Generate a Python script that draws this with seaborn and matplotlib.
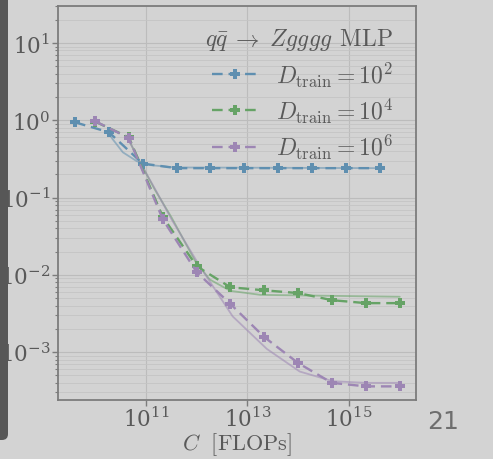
import numpy as np
import pandas as pd
import matplotlib
matplotlib.use("Agg")
import matplotlib.pyplot as plt
import seaborn as sns
from matplotlib.patches import FancyBboxPatch
from matplotlib.ticker import LogLocator, NullLocator, NullFormatter, FixedLocator

# ---- data ----
blue_C = [4.0e9, 1.86e10, 8.6e10, 4.0e11, 1.86e12, 8.6e12, 4.0e13, 1.86e14, 8.6e14, 4.0e15]
blue_loss = [0.94, 0.70, 0.275, 0.24, 0.24, 0.24, 0.24, 0.24, 0.24, 0.24]

gp_C = [1e10, 4.6e10, 2.15e11, 1e12, 4.6e12, 2.15e13, 1e14, 4.6e14, 2.15e15, 1e16]
green_loss = [0.96, 0.60, 0.056, 0.0129, 0.0069, 0.0063, 0.0058, 0.0047, 0.0043, 0.0043]
purple_loss = [0.97, 0.59, 0.052, 0.0108, 0.0042, 0.00156, 0.00072, 0.00040, 0.00036, 0.00036]

blue_fit_C = [1.8e10, 2.2e10, 3.5e10, 6.6e10, 1.2e11, 3.7e11, 4.0e15]
blue_fit_loss = [0.70, 0.57, 0.385, 0.295, 0.263, 0.245, 0.24]

green_fit_C = [4.4e10, 7.6e10, 1.5e11, 3.2e11, 9.3e11, 1.8e12, 4.6e12, 1.8e13, 1e16]
green_fit_loss = [0.585, 0.29, 0.126, 0.055, 0.0151, 0.0087, 0.0062, 0.0055, 0.0052]

purple_fit_C = [4.4e10, 7.6e10, 1.5e11, 3.2e11, 1.15e12, 5.1e12, 2.4e13, 1.07e14, 4.8e14, 2.1e15, 1e16]
purple_fit_loss = [0.585, 0.286, 0.13, 0.052, 0.0129, 0.0029, 0.0011, 0.00056, 0.00042, 0.00040, 0.00040]

labels = [r"$D_{\mathrm{train}} = 10^2$", r"$D_{\mathrm{train}} = 10^4$", r"$D_{\mathrm{train}} = 10^6$"]
legend_title = r"$q\bar{q}\;\to\;Zgggg\;\,\mathrm{MLP}$"
xlabel = r"$C\ \ [\mathrm{FLOPs}]$"
xticks = [1e11, 1e13, 1e15]

# ---- style ----
BG = "#d3d3d3"
TXT = "#595959"
colors = ["#5f8fb0", "#66a366", "#9d86b4"]

sns.set_theme(style="whitegrid")
plt.rcParams.update({
    "mathtext.fontset": "cm",
    "font.family": ["DejaVu Serif"],
    "axes.facecolor": BG,
    "figure.facecolor": BG,
    "savefig.facecolor": BG,
    "text.color": TXT,
    "axes.labelcolor": TXT,
    "xtick.color": TXT,
    "ytick.color": TXT,
})

fig = plt.figure(figsize=(4.93, 4.60), dpi=100)
ax = fig.add_axes([0.1176, 0.1283, 0.8438 - 0.1176, 0.9848 - 0.1283])

series = [
    (blue_C, blue_loss, blue_fit_C, blue_fit_loss),
    (gp_C, green_loss, green_fit_C, green_fit_loss),
    (gp_C, purple_loss, purple_fit_C, purple_fit_loss),
]
for i, (c, l, fc, fl) in enumerate(series):
    df_fit = pd.DataFrame({"C": fc, "loss": fl})
    sns.lineplot(data=df_fit, x="C", y="loss", ax=ax, color=colors[i], lw=1.3,
                 alpha=0.55, sort=False, estimator=None, zorder=2 + i)
for i, (c, l, fc, fl) in enumerate(series):
    df = pd.DataFrame({"C": c, "loss": l})
    sns.lineplot(data=df, x="C", y="loss", ax=ax, color=colors[i], lw=1.7,
                 linestyle=(0, (4.5, 2.5)), marker="P", markersize=7, markeredgewidth=0,
                 sort=False, estimator=None, label=labels[i], zorder=5 + i)

ax.set_xscale("log")
ax.set_yscale("log")
ax.set_xlim(10**9.266, 10**16.32)
ax.set_ylim(2.4e-4, 30.1)

ax.xaxis.set_major_locator(FixedLocator(xticks))
ax.xaxis.set_minor_locator(NullLocator())
ax.yaxis.set_major_locator(LogLocator(base=10, numticks=20))
ax.yaxis.set_minor_locator(LogLocator(base=10, subs=np.arange(2, 10), numticks=20))
ax.yaxis.set_minor_formatter(NullFormatter())

ax.grid(True, which="major", color="#bcbcbc", lw=0.8)
ax.grid(True, which="minor", axis="y", color="#c4c4c4", lw=0.6)
ax.set_axisbelow(True)

for s in ax.spines.values():
    s.set_color("#7c7c7c")
    s.set_linewidth(1.3)

ax.tick_params(axis="both", which="major", labelsize=15.5, length=4, width=1, color="#7c7c7c",
               direction="out", left=True, bottom=True, pad=1.5)
ax.tick_params(axis="x", which="major", pad=0.5)
ax.tick_params(axis="y", which="minor", length=2, width=0.8, color="#7c7c7c", left=True)

ax.set_xlabel(xlabel, fontsize=16)
ax.xaxis.set_label_coords(0.5, -0.11)
ax.xaxis.label.set_va("center")
ax.set_ylabel("")

leg = ax.legend(title=legend_title, loc="upper right", bbox_to_anchor=(0.9645, 0.9754),
                frameon=False, fontsize=17, title_fontsize=17, handlelength=2.0,
                labelspacing=0.3, borderaxespad=0.35, handletextpad=0.7, borderpad=0.1)
leg._legend_box.align = "right"
for t in leg.get_texts():
    t.set_color(TXT)
leg.get_title().set_color(TXT)

# slide frame bar on the left and slide number
bar = FancyBboxPatch((-20, 19), 28, 460, boxstyle="round,pad=0,rounding_size=6",
                     transform=None, facecolor="#575757", edgecolor="none", zorder=10)
fig.patches.append(bar)
fig.text(443 / 493, 1 - 422 / 460, "21", fontsize=18, color="#6e6e6e",
         family="DejaVu Sans", ha="center", va="center")

fig.savefig("out.png", dpi=100)
